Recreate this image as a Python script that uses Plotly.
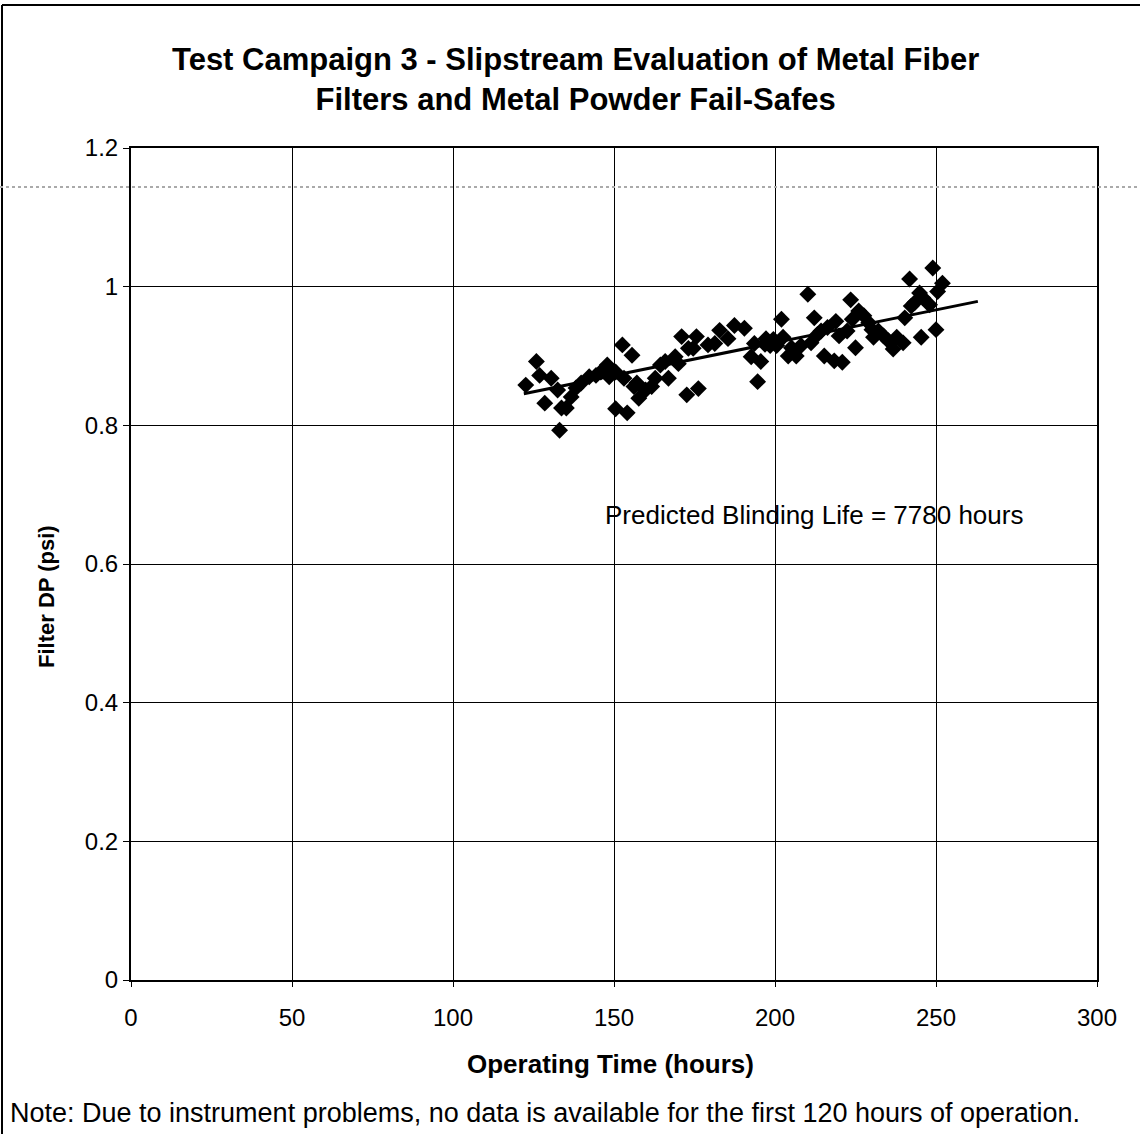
import plotly.graph_objects as go
import numpy as np

# Operating time (hours) and filter DP (psi)
hours = [122.6, 125.9, 126.9, 130.5, 128.5, 132.5, 133.1, 133.7, 135.2, 136.7,
         138.2, 139.8, 142.3, 144.4, 145.9, 147.9, 148.5, 150.5, 150.5, 152.6,
         155.6, 154.1, 153.1, 156.2, 157.7, 157.1, 159.8, 161.7, 162.8, 166.9,
         164.4, 165.9, 169.0, 170.0, 171.0, 173.1, 174.6, 175.6, 172.6, 176.2,
         179.2, 181.3, 182.8, 185.4, 187.4, 190.5, 193.6, 192.6, 195.6, 194.6,
         197.2, 196.9, 199.5, 198.5, 200.5, 202.5, 202.0, 204.1, 206.6, 205.1,
         208.1, 210.2, 211.2, 212.2, 213.2, 215.3, 218.4, 220.9, 214.3, 216.3,
         218.9, 219.9, 222.4, 223.5, 224.0, 225.0, 226.0, 227.6, 229.1, 230.1,
         230.6, 232.1, 233.7, 235.2, 236.7, 237.8, 239.8, 240.3, 242.3, 243.4,
         244.9, 245.9, 248.0, 241.8, 245.4, 249.0, 250.0, 250.5, 252.0]
dp = [0.858, 0.892, 0.872, 0.868, 0.832, 0.851, 0.793, 0.825, 0.825, 0.841,
      0.854, 0.861, 0.870, 0.872, 0.877, 0.887, 0.870, 0.877, 0.824, 0.916,
      0.901, 0.818, 0.868, 0.856, 0.839, 0.861, 0.851, 0.856, 0.868, 0.868,
      0.887, 0.892, 0.899, 0.889, 0.928, 0.911, 0.911, 0.928, 0.844, 0.853,
      0.916, 0.918, 0.937, 0.925, 0.944, 0.940, 0.918, 0.899, 0.892, 0.863,
      0.925, 0.917, 0.924, 0.915, 0.915, 0.927, 0.953, 0.900, 0.900, 0.912,
      0.915, 0.989, 0.919, 0.955, 0.931, 0.900, 0.893, 0.891, 0.936, 0.941,
      0.950, 0.929, 0.936, 0.981, 0.953, 0.912, 0.965, 0.958, 0.948, 0.938,
      0.927, 0.936, 0.929, 0.922, 0.910, 0.927, 0.919, 0.955, 0.972, 0.977,
      0.991, 0.984, 0.974, 1.011, 0.927, 1.027, 0.938, 0.993, 1.005]

# Linear trend (Excel trendline with forward forecast)
trend_range = [122.0, 263.0]
trend_slope = 0.000944
trend_intercept = 0.7305

x_ticks = [0, 50, 100, 150, 200, 250, 300]
y_ticks = [0, 0.2, 0.4, 0.6, 0.8, 1.0, 1.2]

title_text = ("Test Campaign 3 - Slipstream Evaluation of Metal Fiber<br>"
              "Filters and Metal Powder Fail-Safes")
x_title = "Operating Time (hours)"
y_title = "Filter DP (psi)"
annotation_text = "Predicted Blinding Life = 7780 hours"
note_text = "Note: Due to instrument problems, no data is available for the first 120 hours of operation."

FONT = "Liberation Sans, Arial, sans-serif"

trend_x = np.array(trend_range)
trend_y = trend_slope * trend_x + trend_intercept

fig = go.Figure()
fig.add_trace(go.Scatter(
    x=hours, y=dp, mode="markers",
    marker=dict(symbol="diamond", size=13, color="black", line=dict(width=0)),
    showlegend=False, cliponaxis=False))
fig.add_trace(go.Scatter(
    x=trend_x, y=trend_y, mode="lines",
    line=dict(color="black", width=3), showlegend=False))

W, H = 1140, 1134
L, R, T, B = 131, 43, 148, 154
pw, ph = W - L - R, H - T - B

def px2paper_x(px):
    return (px - L) / pw

def px2paper_y(py):
    return (H - B - py) / ph

fig.update_layout(
    width=W, height=H,
    margin=dict(l=L, r=R, t=T, b=B),
    paper_bgcolor="white", plot_bgcolor="white",
    font=dict(family=FONT, color="black"),
    xaxis=dict(range=[0, 300], tickvals=x_ticks, showgrid=True,
               gridcolor="black", gridwidth=1, showline=True, linecolor="black",
               linewidth=2, mirror=True, ticks="outside", ticklen=5,
               tickcolor="black", tickfont=dict(size=24), zeroline=False,
               ticklabelstandoff=10),
    yaxis=dict(range=[0, 1.2], tickvals=y_ticks, showgrid=True,
               gridcolor="black", gridwidth=1, showline=True, linecolor="black",
               linewidth=2, mirror=True, ticks="outside", ticklen=6,
               tickcolor="black", tickfont=dict(size=24), zeroline=False),
)

# title
fig.add_annotation(x=px2paper_x(575), y=px2paper_y(79), xref="paper", yref="paper",
                   text="<b>" + title_text + "</b>", showarrow=False,
                   xanchor="center", yanchor="middle", align="center",
                   font=dict(size=31, family=FONT))
# axis titles
fig.add_annotation(x=px2paper_x(610), y=px2paper_y(1064), xref="paper", yref="paper",
                   text="<b>" + x_title + "</b>", showarrow=False,
                   xanchor="center", yanchor="middle", font=dict(size=26, family=FONT))
fig.add_annotation(x=px2paper_x(46), y=px2paper_y(597), xref="paper", yref="paper",
                   text="<b>" + y_title + "</b>", showarrow=False, textangle=-90,
                   xanchor="center", yanchor="middle", font=dict(size=22, family=FONT))

fig.add_annotation(x=212, y=0.671, xref="x", yref="y", text=annotation_text,
                   showarrow=False, font=dict(size=26, family=FONT),
                   xanchor="center", yanchor="middle")
fig.add_annotation(x=px2paper_x(8), y=px2paper_y(1113), xref="paper", yref="paper",
                   text=note_text, showarrow=False, xanchor="left",
                   yanchor="middle", font=dict(size=27, family=FONT))

# outer chart-area border (top and left edges visible in the original)
fig.add_shape(type="line", xref="paper", yref="paper",
              x0=px2paper_x(2), x1=px2paper_x(1140), y0=px2paper_y(5), y1=px2paper_y(5),
              line=dict(color="black", width=2))
fig.add_shape(type="line", xref="paper", yref="paper",
              x0=px2paper_x(2), x1=px2paper_x(2), y0=px2paper_y(5), y1=px2paper_y(1134),
              line=dict(color="black", width=2))
# faint dotted scan artifact line
fig.add_shape(type="line", xref="paper", yref="paper",
              x0=px2paper_x(0), x1=px2paper_x(1140), y0=px2paper_y(187), y1=px2paper_y(187),
              line=dict(color="#aaaaaa", width=2, dash="dot"))

fig.write_html("out.html")
